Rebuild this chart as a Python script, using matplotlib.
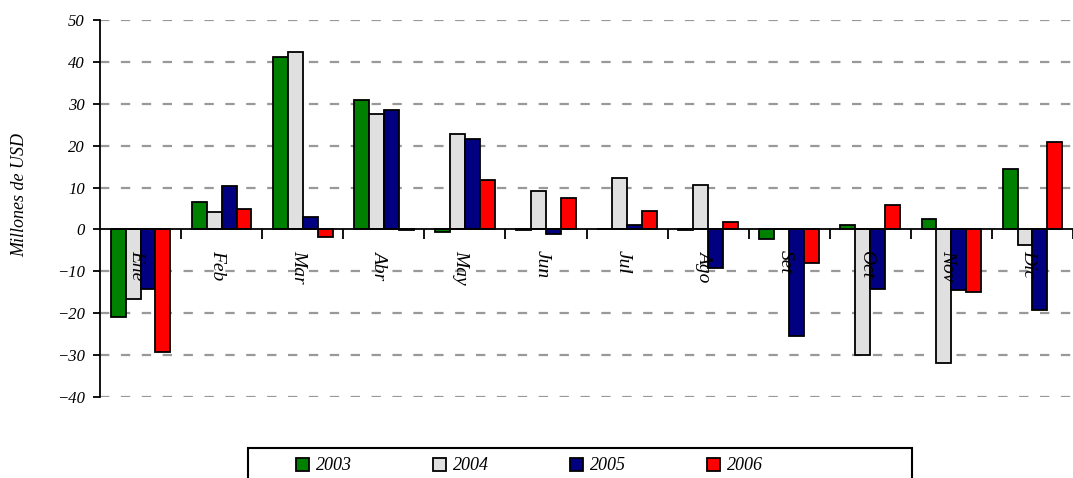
import numpy as np
import matplotlib
matplotlib.use("Agg")
import matplotlib.pyplot as plt
from matplotlib.patches import Rectangle

months = ["Ene", "Feb", "Mar", "Abr", "May", "Jun", "Jul", "Ago", "Set", "Oct", "Nov", "Dic"]
years = ["2003", "2004", "2005", "2006"]
colors = ["#008000", "#E0E0E0", "#000080", "#FF0000"]

v2003 = [-20.9, 6.6, 41.1, 30.9, -0.7, -0.1, 0.0, -0.1, -2.2, 1.0, 2.4, 14.5]
v2004 = [-16.7, 4.1, 42.4, 27.6, 22.9, 9.2, 12.2, 10.5, 0.0, -29.9, -31.9, -3.8]
v2005 = [-14.3, 10.3, 3.0, 28.5, 21.7, -1.2, 1.0, -9.3, -25.5, -14.1, -14.5, -19.3]
v2006 = [-29.2, 4.8, -1.8, -0.2, 11.9, 7.6, 4.4, 1.8, -7.9, 5.9, -14.9, 20.9]
series = [v2003, v2004, v2005, v2006]

W, H = 1073, 478
fig = plt.figure(figsize=(W / 100, H / 100), dpi=100)
ax = fig.add_axes([100 / W, 1 - 397 / H, 1 - 100 / W, (397 - 20) / H])

x = np.arange(len(months))
bw = 0.184
for k, (vals, c, lab) in enumerate(zip(series, colors, years)):
    ax.bar(x + (k - 1.5) * bw, vals, bw, color=c, edgecolor="black",
           linewidth=1.3, label=lab, zorder=3)

ax.set_xlim(-0.5, 11.39)
ax.set_ylim(-40, 50)
ax.set_yticks(range(-40, 51, 10))
for t in range(-40, 51, 10):
    if t != 0:
        ax.axhline(t, color="#999999", linestyle=(0, (4.2, 5.2)), linewidth=1.6, zorder=1)

ax.spines["top"].set_visible(False)
ax.spines["right"].set_visible(False)
ax.spines["bottom"].set_position(("data", 0))
ax.spines["bottom"].set_zorder(4)
ax.spines["left"].set_linewidth(1.3)
ax.spines["bottom"].set_linewidth(1.3)

ax.set_xticks(np.arange(0.5, 12, 1))
ax.set_xticklabels([])
ax.tick_params(axis="x", direction="out", length=7, width=1.3)
ax.tick_params(axis="y", direction="out", length=5, width=1.3, pad=6)
for lbl in ax.get_yticklabels():
    lbl.set_fontfamily("Liberation Serif")
    lbl.set_fontstyle("italic")
    lbl.set_fontsize(12)

for i, m in enumerate(months):
    ax.text(i - 0.05, -4.9, m, rotation=-90, ha="center", va="top",
            family="Liberation Serif", style="italic", fontsize=14, zorder=5)

fig.text(20 / W, 1 - 195 / H, "Millones de USD", rotation=90, ha="center", va="center",
         family="Liberation Serif", style="italic", fontsize=13)

# legend frame (runs off the bottom edge like the original)
fig.patches.append(Rectangle((248 / W, -20 / H), (912 - 248) / W, (H - 448 + 20) / H,
                             transform=fig.transFigure, fill=False, edgecolor="black",
                             linewidth=1.5))
leg = fig.legend(loc="center left", bbox_to_anchor=(296 / W, 1 - 466 / H),
                 ncol=4, frameon=False, columnspacing=4.5,
                 prop={"family": "Liberation Serif", "style": "italic", "size": 13},
                 handlelength=0.7, handleheight=0.7, handletextpad=0.4, borderaxespad=0,
                 borderpad=0)

fig.savefig("out.png", dpi=100)
